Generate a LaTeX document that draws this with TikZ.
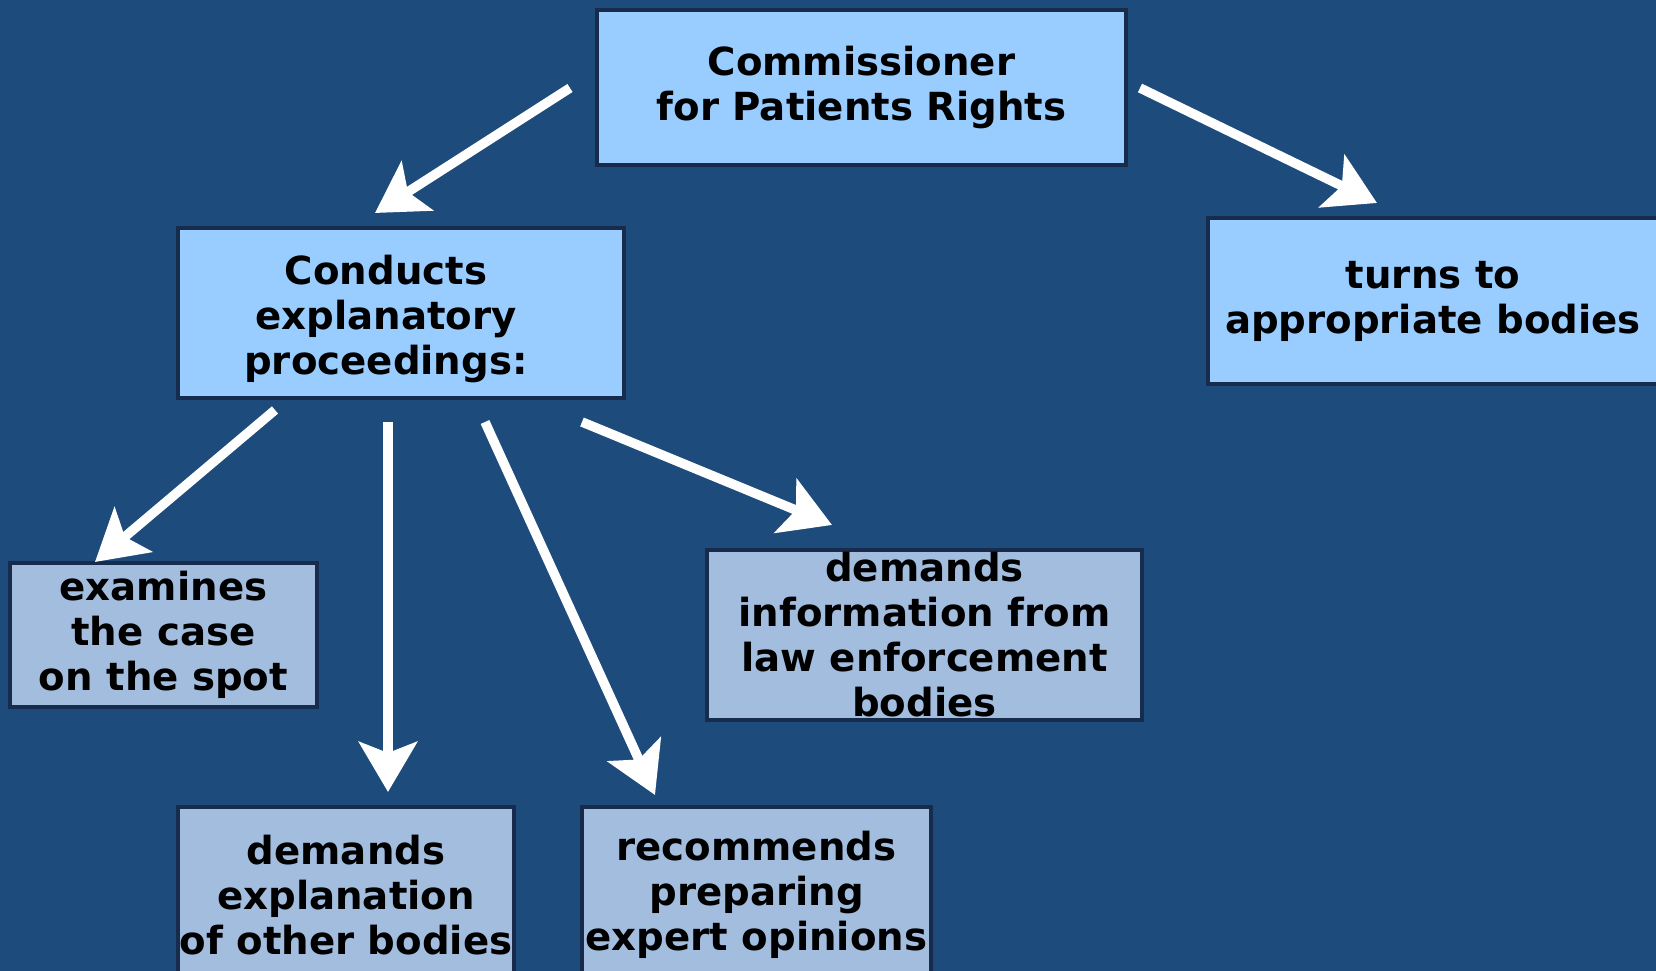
\documentclass[tikz,border=0pt]{standalone}
\usepackage{fontspec}
\setmainfont{DejaVu Sans}
\usetikzlibrary{arrows.meta}
\definecolor{bgblue}{HTML}{1D4B7B}
\definecolor{lightbox}{HTML}{99CCFF}
\definecolor{greybox}{HTML}{A3BDDF}
\definecolor{edge}{HTML}{172C4C}
\tikzset{
  box/.style={draw=edge, line width=0.035cm, rectangle, align=center, inner sep=0pt,
    font=\fontsize{11}{12.8}\selectfont\bfseries, text=black},
  topbox/.style={box, fill=lightbox},
  lowbox/.style={box, fill=greybox},
  arr/.style={draw=white, line width=0.095cm,
    -{Stealth[length=0.5cm, width=0.58cm, inset=0.11cm]}}
}
\begin{document}
\begin{tikzpicture}[x=0.01cm, y=-0.01cm]
\fill[bgblue] (0,0) rectangle (1656,971);
\useasboundingbox (0,0) rectangle (1656,971);

\node[topbox, minimum width=5.29cm, minimum height=1.55cm] (comm) at (861.5,87.5) {Commissioner\\for Patients Rights};
\node[topbox, minimum width=4.46cm, minimum height=1.70cm] (cond) at (401,313) {\raisebox{-0.17cm}[0pt][0pt]{\begin{tabular}{@{}c@{}}Conducts\\explanatory\\proceedings:\end{tabular}}\hspace*{0.3cm}};
\node[topbox, minimum width=4.50cm, minimum height=1.66cm] (turn) at (1433,301) {turns to\\appropriate bodies};
\node[lowbox, minimum width=3.07cm, minimum height=1.44cm] (exam) at (163.5,635) {examines\\the case\\on the spot};
\node[lowbox, minimum width=4.35cm, minimum height=1.70cm] (info) at (924.5,635) {demands\\information from\\law enforcement\\bodies};
\node[lowbox, minimum width=3.36cm, minimum height=1.76cm] (expl) at (346,895) {demands\\explanation\\of other bodies};
\node[lowbox, minimum width=3.49cm, minimum height=1.76cm] (reco) at (756.5,895) {recommends\\preparing\\expert opinions};

\coordinate (a1s) at (570,88);   \coordinate (a1e) at (375,213);
\coordinate (a2s) at (1140,88);  \coordinate (a2e) at (1377,203);
\coordinate (a3s) at (275,410);  \coordinate (a3e) at (95,562);
\coordinate (a4s) at (388,422);  \coordinate (a4e) at (388,792);
\coordinate (a5s) at (485,422);  \coordinate (a5e) at (655,795);
\coordinate (a6s) at (582,422);  \coordinate (a6e) at (832,525);

\draw[arr] (a1s) -- (a1e);
\draw[arr] (a2s) -- (a2e);
\draw[arr] (a3s) -- (a3e);
\draw[arr] (a4s) -- (a4e);
\draw[arr] (a5s) -- (a5e);
\draw[arr] (a6s) -- (a6e);
\end{tikzpicture}
\end{document}
